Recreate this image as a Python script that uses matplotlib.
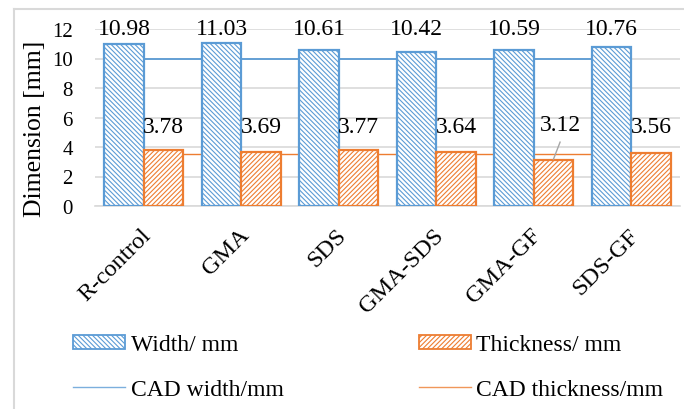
import numpy as np
import matplotlib
matplotlib.use("Agg")
import matplotlib.pyplot as plt
from matplotlib.lines import Line2D
from matplotlib.transforms import ScaledTranslation

samples = ["R-control", "GMA", "SDS", "GMA-SDS", "GMA-GF", "SDS-GF"]
width_mm = [10.98, 11.03, 10.61, 10.42, 10.59, 10.76]
thickness_mm = [3.78, 3.69, 3.77, 3.64, 3.12, 3.56]
cad_width = [10, 10, 10, 10, 10, 10]
cad_thickness = [3.5, 3.5, 3.5, 3.5, 3.5, 3.5]
yticks = [0, 2, 4, 6, 8, 10, 12]

blue = "#5B9BD5"
orange = "#ED7D31"
grid = "#D9D9D9"
hatch_w = "\\" * 7
hatch_t = "/" * 7

plt.rcParams["font.family"] = ["Liberation Serif", "DejaVu Serif"]
plt.rcParams["hatch.linewidth"] = 0.8

fig = plt.figure(figsize=(6.84, 4.10), dpi=100)
ax = fig.add_axes([95 / 684, 1 - 207 / 410, 585 / 684, 177 / 410])

x = np.arange(len(samples))
bw = 0.405

# reference lines sit behind the bars
ax.plot(x, cad_width, color=blue, lw=1.3, zorder=2)
ax.plot(x, cad_thickness, color=orange, lw=1.0, zorder=2)

ax.bar(x - bw / 2, width_mm, bw, facecolor="white", edgecolor=blue,
       hatch=hatch_w, lw=1.6, zorder=3)
ax.bar(x + bw / 2, thickness_mm, bw, facecolor="white", edgecolor=orange,
       hatch=hatch_t, lw=1.6, zorder=3)

# value labels
for i, v in enumerate(width_mm):
    ax.text(x[i] - bw / 2, 12.05, f"{v:.2f}", ha="center", va="center",
            fontsize=17, zorder=5)
for i, v in enumerate(thickness_mm):
    if i == 4:
        ax.text(x[i] + 0.27, 5.55, f"{v:.2f}", ha="center", va="center",
                fontsize=17, zorder=5)
        ax.plot([x[i] + 0.27, x[i] + bw / 2], [4.33, v + 0.06],
                color="#A6A6A6", lw=1.0, zorder=5)
    else:
        ax.text(x[i] + bw / 2, 5.42, f"{v:.2f}", ha="center", va="center",
                fontsize=17, zorder=5)

ax.set_xlim(-0.5, len(samples) - 0.5)
ax.set_ylim(0, 12)
ax.set_yticks(yticks)
ax.yaxis.grid(True, color=grid, lw=1.2, zorder=0)
ax.set_axisbelow(True)
for s in ["top", "right", "left"]:
    ax.spines[s].set_visible(False)
ax.spines["bottom"].set_color(grid)
ax.spines["bottom"].set_linewidth(1.2)
ax.tick_params(axis="both", length=0)
ax.tick_params(axis="y", labelsize=15, pad=16)
ax.tick_params(axis="x", labelsize=17.5, pad=13)

ax.set_xticks(x)
ax.set_xticklabels(samples, rotation=45, ha="right", va="top",
                   rotation_mode="anchor")
for lab in ax.get_xticklabels():
    lab.set_transform(lab.get_transform() + ScaledTranslation(-3 / 100, 0, fig.dpi_scale_trans))

fig.text(35 / 684, 1 - 129 / 410, "Dimension [mm]", rotation=90,
         ha="center", va="center", fontsize=18.5)

handles = [
    plt.Rectangle((0, 0), 1, 1, facecolor="white", edgecolor=blue, hatch=hatch_w, lw=1.3),
    Line2D([], [], color=blue, lw=1.0, alpha=0.8),
    plt.Rectangle((0, 0), 1, 1, facecolor="white", edgecolor=orange, hatch=hatch_t, lw=1.3),
    Line2D([], [], color=orange, lw=1.0, alpha=0.8),
]
labels = ["Width/ mm", "CAD width/mm", "Thickness/ mm", "CAD thickness/mm"]
fig.legend(handles, labels, ncol=2, loc="upper left",
           bbox_to_anchor=(52 / 684, 1 - 314 / 410), frameon=False,
           fontsize=17, handlelength=2.2, handleheight=0.5,
           handletextpad=0.25, columnspacing=5.7, labelspacing=1.0)

# chart area border (left and top edges)
fig.add_artist(Line2D([14 / 684, 14 / 684], [0, 1 - 10 / 410], color=grid, lw=1.5,
                      transform=fig.transFigure))
fig.add_artist(Line2D([14 / 684, 1], [1 - 10 / 410, 1 - 10 / 410], color=grid, lw=1.5,
                      transform=fig.transFigure))

fig.savefig("out.png", dpi=100)
